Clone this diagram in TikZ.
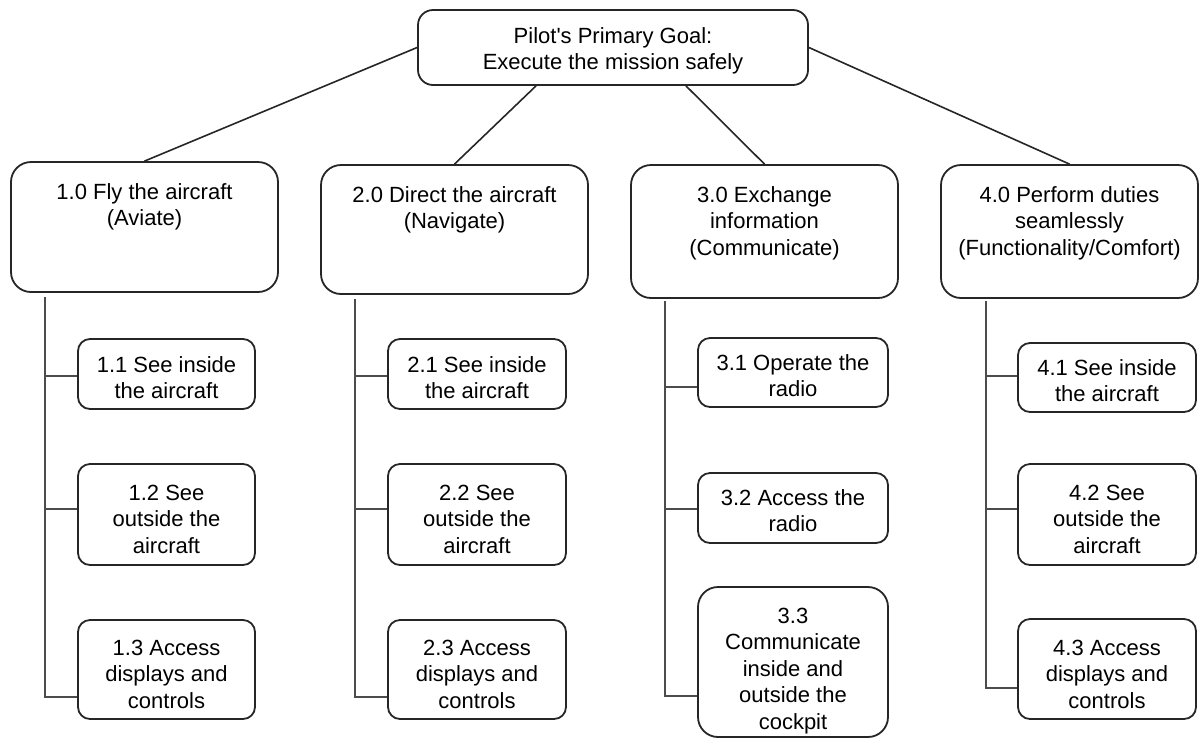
\documentclass[tikz,border=0pt]{standalone}
\usepackage{fontspec}
\setmainfont{Liberation Sans}
\newcommand{\fs}{\fontsize{22pt}{26.5pt}\selectfont}
% width, height, first-baseline offset, text
\newcommand{\bxt}[4]{\parbox[c][#2][t]{#1}{\centering\rule{0pt}{#3}#4}}
\begin{document}
\begin{tikzpicture}[x=1pt,y=-1pt,
  bx/.style={draw=black!85, line width=1.8pt, rounded corners=#1, fill=white,
    inner sep=0pt, font=\fs},
  bx/.default=12pt,
  conn/.style={draw=black!70, line width=2pt},
  link/.style={draw=black!85, line width=1.6pt}]
\useasboundingbox (0,0) rectangle (1201,740);

% top goal
\node[bx=15pt] (T) at (613,47.5)
  {\bxt{390pt}{75pt}{33pt}{Pilot\textquotesingle s Primary Goal:\\Execute the mission safely}};

% level 1
\node[bx=20pt] (A1) at (144.5,227)
  {\bxt{267pt}{130pt}{37pt}{1.0 Fly the aircraft\\(Aviate)}};
\node[bx=20pt] (A2) at (454.5,229.5)
  {\bxt{267pt}{129pt}{37pt}{2.0 Direct the aircraft\\(Navigate)}};
\node[bx=20pt] (A3) at (764.5,231.5)
  {\bxt{267pt}{133pt}{37pt}{3.0 Exchange\\information\\(Communicate)}};
\node[bx=20pt] (A4) at (1069.5,231.5)
  {\bxt{257pt}{133pt}{37pt}{4.0 Perform duties\\seamlessly\\(Functionality/Comfort)}};

% level 2 - column 1
\node[bx] (B11) at (166.5,374) {\bxt{177pt}{70pt}{33pt}{1.1 See inside\\the aircraft}};
\node[bx] (B12) at (166.5,514.5) {\bxt{177pt}{101pt}{36pt}{1.2 See\\outside the\\aircraft}};
\node[bx] (B13) at (166.5,669.5) {\bxt{177pt}{99pt}{35pt}{1.3 Access\\displays and\\controls}};
% column 2
\node[bx] (B21) at (477,374) {\bxt{178pt}{70pt}{33pt}{2.1 See inside\\the aircraft}};
\node[bx] (B22) at (477,514.5) {\bxt{178pt}{101pt}{36pt}{2.2 See\\outside the\\aircraft}};
\node[bx] (B23) at (477,669.5) {\bxt{178pt}{99pt}{35pt}{2.3 Access\\displays and\\controls}};
% column 3
\node[bx] (B31) at (793,372.5) {\bxt{190pt}{69pt}{32pt}{3.1 Operate the\\radio}};
\node[bx] (B32) at (793,508) {\bxt{190pt}{70pt}{32pt}{3.2 Access the\\radio}};
\node[bx=20pt] (B33) at (793,662)
  {\bxt{190pt}{150pt}{36pt}{3.3\\Communicate\\inside and\\outside the\\cockpit}};
% column 4
\node[bx] (B41) at (1107,377.5) {\bxt{178pt}{69pt}{32pt}{4.1 See inside\\the aircraft}};
\node[bx] (B42) at (1107,514.5) {\bxt{178pt}{101pt}{36pt}{4.2 See\\outside the\\aircraft}};
\node[bx] (B43) at (1107,669) {\bxt{178pt}{100pt}{36pt}{4.3 Access\\displays and\\controls}};

% links from goal
\draw[link] (T.west) -- (A1.north);
\draw[link] ([xshift=-77pt]T.south) -- (A2.north);
\draw[link] ([xshift=73pt]T.south) -- (A3.north);
\draw[link] (T.east) -- (A4.north);

% trunk tops
\coordinate (s1) at (45,297);
\coordinate (s2) at (355,299);
\coordinate (s3) at (665,301);
\coordinate (s4) at (986,301);
% branch ends
\coordinate (b11) at ([yshift=-2pt]B11.west);
\coordinate (b12) at ([yshift=5.5pt]B12.west);
\coordinate (b13) at ([yshift=-27.5pt]B13.west);
\coordinate (b21) at ([yshift=-2pt]B21.west);
\coordinate (b22) at ([yshift=5.5pt]B22.west);
\coordinate (b23) at ([yshift=-27.5pt]B23.west);
\coordinate (b31) at ([yshift=-14.5pt]B31.west);
\coordinate (b32) at ([yshift=-1pt]B32.west);
\coordinate (b33) at ([yshift=-34pt]B33.west);
\coordinate (b41) at ([yshift=1.5pt]B41.west);
\coordinate (b42) at ([yshift=5.5pt]B42.west);
\coordinate (b43) at ([yshift=-19pt]B43.west);

\draw[conn] (s1) |- (b13);
\draw[conn] (s1 |- b11) -- (b11);
\draw[conn] (s1 |- b12) -- (b12);

\draw[conn] (s2) |- (b23);
\draw[conn] (s2 |- b21) -- (b21);
\draw[conn] (s2 |- b22) -- (b22);

\draw[conn] (s3) |- (b33);
\draw[conn] (s3 |- b31) -- (b31);
\draw[conn] (s3 |- b32) -- (b32);

\draw[conn] (s4) |- (b43);
\draw[conn] (s4 |- b41) -- (b41);
\draw[conn] (s4 |- b42) -- (b42);
\end{tikzpicture}
\end{document}
